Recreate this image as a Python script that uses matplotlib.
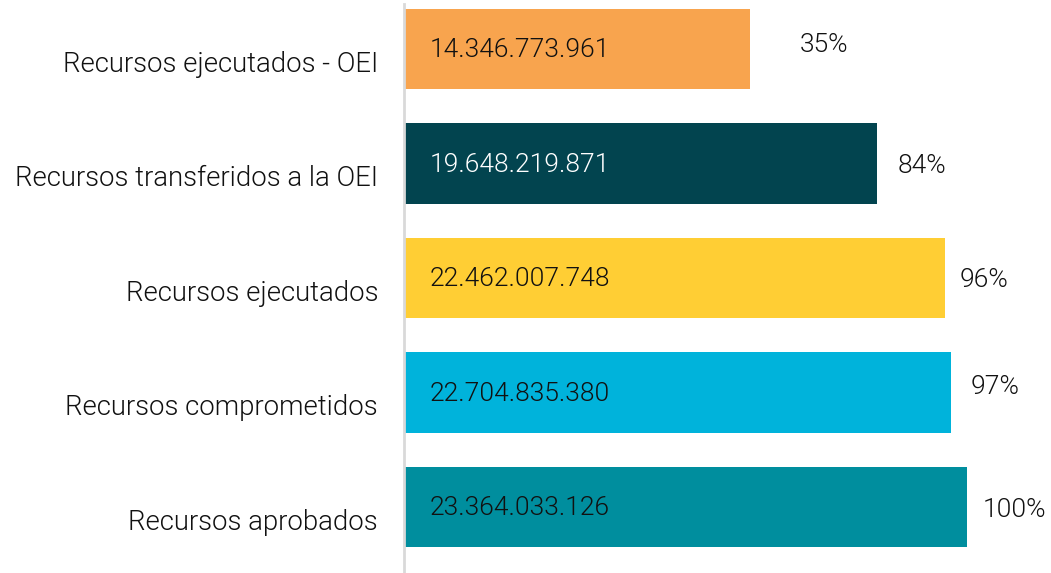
import matplotlib
matplotlib.use("Agg")
import matplotlib.pyplot as plt
import matplotlib.transforms as mtransforms
from matplotlib import font_manager

categories = ["Recursos aprobados", "Recursos comprometidos", "Recursos ejecutados",
              "Recursos transferidos a la OEI", "Recursos ejecutados - OEI"]
values = [23364033126, 22704835380, 22462007748, 19648219871, 14346773961]
value_labels = ["23.364.033.126", "22.704.835.380", "22.462.007.748",
                "19.648.219.871", "14.346.773.961"]
pct_labels = ["100%", "97%", "96%", "84%", "35%"]
colors = ["#008E9E", "#00B3DB", "#FFCE34", "#02444F", "#F8A44E"]
value_text_colors = ["#111111", "#111111", "#111111", "#ffffff", "#111111"]
pct_offsets = [(16, -3), (20, 6), (14, -2), (20, -2), (50, 4)]

# pick a light sans weight if available
light_fonts = [f for f in font_manager.fontManager.ttflist
               if f.name == "Roboto" and f.weight in (300, "light")]
if light_fonts:
    plt.rcParams['font.family'] = ['Roboto', 'DejaVu Sans']
    plt.rcParams['font.weight'] = 300
else:
    plt.rcParams['font.family'] = ['Liberation Sans', 'DejaVu Sans']
FS = 19.0
FS_CAT = 19.8

W, H = 1051, 573
fig = plt.figure(figsize=(W / 100, H / 100), dpi=100)
ax = fig.add_axes([404 / W, 0, 1 - 404 / W, 1])

y = list(range(len(categories)))
ax.barh(y, values, height=0.70, color=colors, zorder=2)

xmax = max(values) * (W - 404) / 563
ax.set_xlim(0, xmax)
ax.set_ylim(-0.576, 4.428)

for i, (v, lab, pct, tc, off) in enumerate(zip(values, value_labels, pct_labels,
                                                value_text_colors, pct_offsets)):
    ax.annotate(lab, xy=(0, i), xytext=(26 * 0.72, -1 * 0.72), textcoords="offset points",
                va="center", ha="left", fontsize=FS, color=tc)
    ax.annotate(pct, xy=(v, i), xytext=(off[0] * 0.72, off[1] * 0.72),
                textcoords="offset points", va="center", ha="left",
                fontsize=FS, color="#111111")

ax.set_yticks(y)
ax.set_yticklabels(categories, fontsize=FS_CAT, color="#111111")
ax.tick_params(axis="y", length=0, pad=26 * 0.72)
shift = mtransforms.ScaledTranslation(0, -12 / 100, fig.dpi_scale_trans)
for t in ax.get_yticklabels():
    t.set_transform(t.get_transform() + shift)
ax.set_xticks([])
for s in ["top", "right", "bottom"]:
    ax.spines[s].set_visible(False)
ax.spines["left"].set_color("#d9d9d9")
ax.spines["left"].set_linewidth(2)
ax.spines["left"].set_bounds(-0.576, 4.39)

fig.savefig("out.png", dpi=100)
